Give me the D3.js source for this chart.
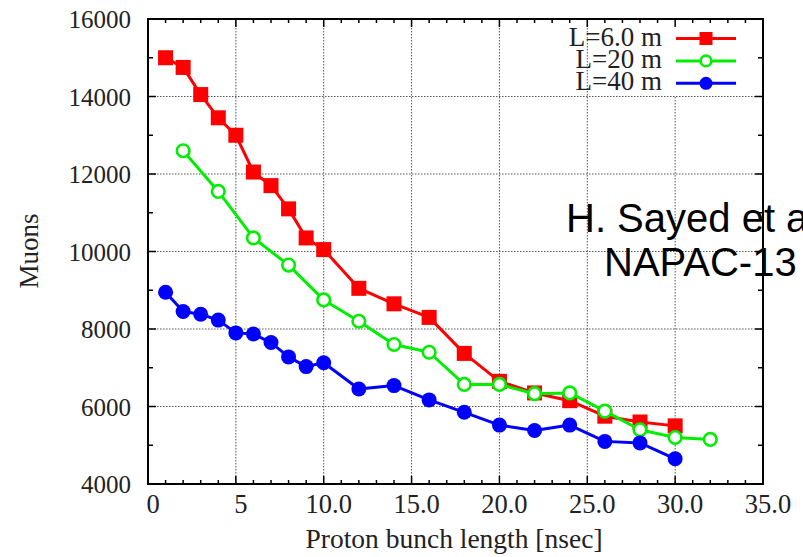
<!DOCTYPE html>
<html>
<head>
<meta charset="utf-8">
<script src="https://cdn.jsdelivr.net/npm/d3@7"></script>
<style>
  html, body { margin: 0; padding: 0; background: #fff; overflow: hidden; }
  svg { display: block; }
</style>
</head>
<body>
<svg id="chart" width="803" height="557"></svg>
<script>
// Muon yield versus proton bunch length for three drift lengths
const xShort = [1, 2, 3, 4, 5, 6, 7, 8, 9, 10, 12, 14, 16, 18, 20, 22, 24, 26, 28, 30];
const muonsL6 = [15000, 14750, 14050, 13450, 13000, 12050, 11700, 11100, 10350, 10050,
                 9050, 8650, 8300, 7370, 6650, 6350, 6150, 5750, 5600, 5500];

const xEven = [2, 4, 6, 8, 10, 12, 14, 16, 18, 20, 22, 24, 26, 28, 30, 32];
const muonsL20 = [12600, 11550, 10350, 9650, 8750, 8200, 7600, 7400, 6570, 6570,
                  6330, 6350, 5880, 5400, 5200, 5150];

const muonsL40 = [8950, 8450, 8380, 8230, 7900, 7870, 7650, 7280, 7030, 7130,
                  6450, 6540, 6170, 5850, 5520, 5380, 5520, 5100, 5060, 4650];

const seriesNames = ["L=6.0 m", "L=20 m", "L=40 m"];
const xTickValues = [0, 5, 10, 15, 20, 25, 30, 35];
const xTickLabels = ["0", "5", "10.0", "15.0", "20.0", "25.0", "30.0", "35.0"];
const yTickValues = [4000, 6000, 8000, 10000, 12000, 14000, 16000];
const noteLines = ["H. Sayed et al.,", "NAPAC-13"];

const series = [
  { name: seriesNames[0], xs: xShort, ys: muonsL6, color: "#ff0000", marker: "square" },
  { name: seriesNames[1], xs: xEven, ys: muonsL20, color: "#00ee00", marker: "open" },
  { name: seriesNames[2], xs: xShort, ys: muonsL40, color: "#0000ff", marker: "dot" }
];

const svg = d3.select("#chart");
const plotLeft = 148, plotRight = 763, plotTop = 19, plotBottom = 484;
const x = d3.scaleLinear().domain([0, 35]).range([plotLeft, plotRight]);
const y = d3.scaleLinear().domain([4000, 16000]).range([plotBottom, plotTop]);
const serif = "'Liberation Serif', 'Times New Roman', serif";

// dotted grid at inner major ticks
const grid = svg.append("g").attr("stroke", "#555").attr("stroke-width", 1)
  .attr("stroke-dasharray", "1.5,1.5");
xTickValues.slice(1, -1).forEach(v => {
  grid.append("line").attr("x1", x(v)).attr("x2", x(v)).attr("y1", plotTop).attr("y2", plotBottom);
});
yTickValues.slice(1, -1).forEach(v => {
  grid.append("line").attr("x1", plotLeft).attr("x2", plotRight).attr("y1", y(v)).attr("y2", y(v));
});

// legend background keeps the sample area clear of grid lines
svg.append("rect").attr("x", 669).attr("y", plotTop + 2).attr("width", 72).attr("height", 75)
  .attr("fill", "#fff");

// inward ticks on all four sides, majors and minors
const ticks = svg.append("g").attr("stroke", "#000").attr("stroke-width", 1.5);
d3.range(0, 36, 1).forEach(v => {
  const len = v % 5 === 0 ? 8 : 4;
  ticks.append("line").attr("x1", x(v)).attr("x2", x(v)).attr("y1", plotBottom).attr("y2", plotBottom - len);
  ticks.append("line").attr("x1", x(v)).attr("x2", x(v)).attr("y1", plotTop).attr("y2", plotTop + len);
});
d3.range(4000, 16001, 1000).forEach(v => {
  const len = v % 2000 === 0 ? 8 : 5;
  ticks.append("line").attr("x1", plotLeft).attr("x2", plotLeft + len).attr("y1", y(v)).attr("y2", y(v));
  ticks.append("line").attr("x1", plotRight).attr("x2", plotRight - len).attr("y1", y(v)).attr("y2", y(v));
});

// tick labels via d3 axes, with their own tick lines hidden
const xAxis = svg.append("g").attr("transform", `translate(0,${plotBottom})`)
  .call(d3.axisBottom(x).tickValues(xTickValues)
    .tickFormat((d, i) => xTickLabels[i]).tickSize(0).tickPadding(10));
const yAxis = svg.append("g").attr("transform", `translate(${plotLeft},0)`)
  .call(d3.axisLeft(y).tickValues(yTickValues).tickFormat(d3.format("d"))
    .tickSize(0).tickPadding(17));
[xAxis, yAxis].forEach(a => {
  a.select(".domain").remove();
  a.selectAll("text").attr("font-family", serif).attr("fill", "#222");
});
xAxis.selectAll("text").attr("font-size", 26.5).attr("dx", 4.5);
yAxis.selectAll("text").attr("font-size", 25).attr("dy", "0.34em");

// frame
svg.append("rect").attr("x", plotLeft).attr("y", plotTop).attr("width", plotRight - plotLeft)
  .attr("height", plotBottom - plotTop).attr("fill", "none").attr("stroke", "#000").attr("stroke-width", 2);

// axis titles
svg.append("text").attr("x", 454).attr("y", 548).attr("text-anchor", "middle")
  .attr("font-family", serif).attr("font-size", 27.5).attr("fill", "#222")
  .text("Proton bunch length [nsec]");
svg.append("text").attr("transform", "translate(38,251) rotate(-90)").attr("text-anchor", "middle")
  .attr("font-family", serif).attr("font-size", 27).attr("fill", "#222").text("Muons");

function drawMarker(g, kind, color, cx, cy, s) {
  if (kind === "square") {
    g.append("rect").attr("x", cx - s).attr("y", cy - s).attr("width", 2 * s).attr("height", 2 * s)
      .attr("fill", color);
  } else if (kind === "open") {
    g.append("circle").attr("cx", cx).attr("cy", cy).attr("r", s - 1.2)
      .attr("fill", "#fff").attr("stroke", color).attr("stroke-width", 2.6);
  } else {
    g.append("circle").attr("cx", cx).attr("cy", cy).attr("r", s).attr("fill", color);
  }
}

// series lines and markers
const line = d3.line().x(d => x(d[0])).y(d => y(d[1]));
series.forEach(s => {
  const pts = s.xs.map((v, i) => [v, s.ys[i]]);
  const g = svg.append("g");
  g.append("path").attr("d", line(pts)).attr("fill", "none")
    .attr("stroke", s.color).attr("stroke-width", 3).attr("stroke-linejoin", "round");
  pts.forEach(p => drawMarker(g, s.marker, s.color, x(p[0]), y(p[1]), 7.5));
});

// legend
series.forEach((s, i) => {
  const cy = 38.5 + i * 22.4;
  const g = svg.append("g");
  g.append("text").attr("x", 662).attr("y", cy + 7).attr("text-anchor", "end")
    .attr("font-family", serif).attr("font-size", 27).attr("fill", "#222").text(s.name);
  g.append("line").attr("x1", 676).attr("x2", 736).attr("y1", cy).attr("y2", cy)
    .attr("stroke", s.color).attr("stroke-width", 3);
  drawMarker(g, s.marker, s.color, 706, cy, 6.5);
});

// citation note
svg.append("g").selectAll("text").data(noteLines).join("text")
  .attr("x", (d, i) => i === 0 ? 566 : 604)
  .attr("y", (d, i) => 232 + i * 44)
  .attr("font-family", "'Liberation Sans', Arial, sans-serif").attr("font-size", 40)
  .attr("fill", "#000").text(d => d);
</script>
</body>
</html>
